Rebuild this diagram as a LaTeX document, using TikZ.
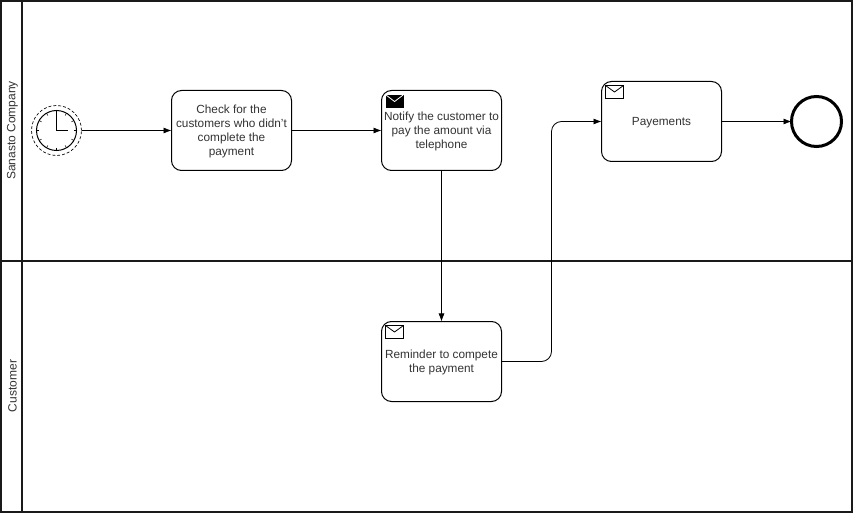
\documentclass[tikz,border=0pt]{standalone}
\usepackage{xcolor}
\usepackage{fontspec}
\setmainfont{Liberation Sans}
\usetikzlibrary{arrows.meta, positioning, calc}
\definecolor{inkgrey}{HTML}{333333}
\definecolor{lanegrey}{HTML}{1A1A1A}
\tikzset{
  lane/.style={draw=lanegrey, line width=1.5pt},
  lanelabel/.style={inkgrey, rotate=90, font=\fontsize{9}{10.5}\selectfont},
  taskbox/.style={draw=black, fill=white, line width=0.75pt, rounded corners=7.5pt, minimum width=90pt, minimum height=60pt, inner sep=0pt, outer sep=0pt},
  tasktext/.style={inner sep=0pt, align=center, text=inkgrey, font=\fontsize{8.85}{10.5}\selectfont, yshift=-0.6pt},
  msgicon/.style={draw=black, line width=0.6pt, minimum width=13.5pt, minimum height=9.5pt, inner sep=0pt, outer sep=0pt, anchor=north west, xshift=3pt, yshift=-3pt},
  flow/.style={draw=black, line width=0.6pt, -{Latex[length=6pt,width=4.5pt]}}
}
\begin{document}
\begin{tikzpicture}[x=0.75pt, y=-0.75pt]
  \useasboundingbox (0,0) rectangle (853,513);
  \fill[white] (0,0) rectangle (853,513);

  % Pool with its two lanes
  \draw[lane] (1,1) rectangle (851.5,511.5);
  \draw[lane] (21.5,1) -- (21.5,511.5);
  \draw[lane] (1,261.5) -- (851.5,261.5);
  \node[lanelabel] (laneCompany) at (12.5,130.5) {Sanasto Company};
  \node[lanelabel] (laneCustomer) at (12.5,386) {Customer};

  % Start timer event
  \node[circle, draw=black, dashed, dash pattern=on 2.2pt off 1.5pt, line width=0.5pt, minimum size=37.5pt, inner sep=0pt, outer sep=0pt] (startEvent) at (56.5,130.5) {};
  \node[circle, draw=black, line width=0.75pt, minimum size=30pt, inner sep=0pt, outer sep=0pt] (clockFace) at (56.5,130.5) {};
  \foreach \a in {0,30,...,330}
    \draw[line width=0.4pt] ($(clockFace.center)+(\a:13pt)$) -- ($(clockFace.center)+(\a:15pt)$);
  \draw[line width=0.75pt] ($(clockFace.center)+(0,-17.5)$) -- (clockFace.center) -- ($(clockFace.center)+(11,0)$);

  % Tasks
  \node[taskbox] (taskCheck) at (231.5,130.5) {};
  \node[taskbox] (taskNotify) at (441.5,130.5) {};
  \node[taskbox] (taskPay) at (661.5,121.5) {};
  \node[taskbox] (taskRemind) at (441.5,361.5) {};
  \node[tasktext] (textCheck) at (taskCheck.center) {Check for the\\customers who didn't\\complete the\\payment};
  \node[tasktext] (textNotify) at (taskNotify.center) {Notify the customer to\\pay the amount via\\telephone};
  \node[tasktext] (textPay) at (taskPay.center) {Payements};
  \node[tasktext] (textRemind) at (taskRemind.center) {Reminder to compete\\the payment};

  % Message markers
  \node[msgicon, fill=black, minimum width=12.8pt, minimum height=9pt, xshift=0.4pt, yshift=-0.4pt] (iconNotify) at (taskNotify.north west) {};
  \draw[white, line width=0.6pt] (iconNotify.north west) -- ($(iconNotify.north)+(0,6.5)$) -- (iconNotify.north east);
  \node[msgicon] (iconPay) at (taskPay.north west) {};
  \draw[line width=0.6pt] (iconPay.north west) -- ($(iconPay.north)+(0,6.5)$) -- (iconPay.north east);
  \node[msgicon] (iconRemind) at (taskRemind.north west) {};
  \draw[line width=0.6pt] (iconRemind.north west) -- ($(iconRemind.north)+(0,6.5)$) -- (iconRemind.north east);

  % End event
  \node[circle, draw=black, line width=2.25pt, minimum size=37.5pt, inner sep=0pt, outer sep=0pt] (endEvent) at (816.5,121.5) {};

  % Sequence flows
  \coordinate (flowBend) at (551.5,241);
  \draw[flow] (startEvent.east) -- (taskCheck.west);
  \draw[flow] (taskCheck.east) -- (taskNotify.west);
  \draw[flow] (taskNotify.south) -- (taskRemind.north);
  \draw[flow, rounded corners=7.5pt] (taskRemind.east) -| (flowBend) |- (taskPay.west);
  \draw[flow] (taskPay.east) -- (endEvent.west);
\end{tikzpicture}
\end{document}
